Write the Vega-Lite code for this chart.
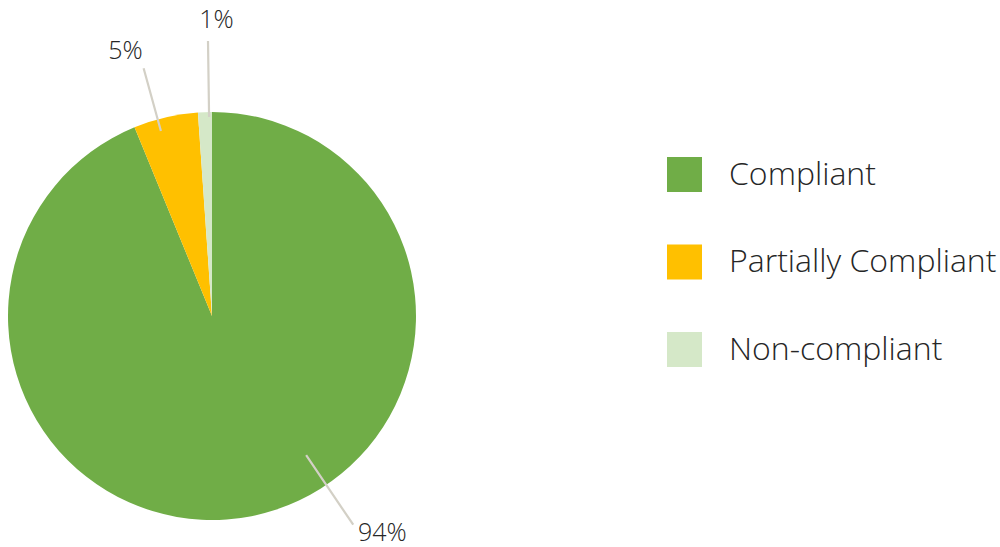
{
  "$schema": "https://vega.github.io/schema/vega-lite/v6.json",
  "width": 424,
  "height": 408,
  "autosize": {"type": "none"},
  "padding": {"left": 0, "top": 112, "right": 576, "bottom": 27},
  "background": "white",
  "config": {"view": {"stroke": null}, "font": "Open Sans"},
  "data": {
    "values": [
      {"category": "Compliant", "value": 93.8, "label": "94%"},
      {"category": "Partially Compliant", "value": 5.1, "label": "5%"},
      {"category": "Non-compliant", "value": 1.1, "label": "1%"}
    ]
  },
  "transform": [
    {"window": [{"op": "sum", "field": "value", "as": "cum"}], "frame": [null, 0]},
    {"calculate": "datum.cum - datum.value", "as": "start"},
    {"calculate": "datum.cum - datum.value / 2", "as": "mid"}
  ],
  "layer": [
    {
      "mark": {"type": "arc", "outerRadius": 204},
      "encoding": {
        "theta": {"field": "start", "type": "quantitative", "scale": {"domain": [0, 100]}},
        "theta2": {"field": "cum"},
        "color": {
          "field": "category",
          "type": "nominal",
          "scale": {
            "domain": ["Compliant", "Partially Compliant", "Non-compliant"],
            "range": ["#70AD47", "#FFC000", "#D5E8C8"]
          },
          "legend": {
            "title": null,
            "orient": "none",
            "legendX": 667,
            "legendY": 45,
            "symbolType": "square",
            "symbolSize": 1225,
            "symbolStrokeWidth": 0,
            "labelFontSize": 32,
            "labelFont": "Open Sans",
            "labelFontWeight": 300,
            "labelColor": "#262626",
            "labelOffset": 27,
            "rowPadding": 52.5,
            "labelLimit": 400
          }
        }
      }
    },
    {
      "transform": [{"filter": "datum.category == 'Partially Compliant'"}],
      "mark": {"type": "arc", "innerRadius": 192, "outerRadius": 257, "thetaOffset": -0.04, "theta2Offset": -0.04, "stroke": "#D3D0C6", "strokeWidth": 2.2, "fill": null},
      "encoding": {
        "theta": {"field": "mid", "type": "quantitative", "scale": {"domain": [0, 100]}},
        "theta2": {"field": "mid"}
      }
    },
    {
      "transform": [{"filter": "datum.category == 'Non-compliant'"}],
      "mark": {"type": "arc", "innerRadius": 199, "outerRadius": 275, "thetaOffset": 0.02, "theta2Offset": 0.02, "stroke": "#D3D0C6", "strokeWidth": 2.2, "fill": null},
      "encoding": {
        "theta": {"field": "mid", "type": "quantitative", "scale": {"domain": [0, 100]}},
        "theta2": {"field": "mid"}
      }
    },
    {
      "transform": [{"filter": "datum.category == 'Compliant'"}],
      "mark": {"type": "arc", "innerRadius": 168, "outerRadius": 252, "thetaOffset": -0.4, "theta2Offset": -0.4, "stroke": "#D3D0C6", "strokeWidth": 2.2, "fill": null},
      "encoding": {
        "theta": {"field": "mid", "type": "quantitative", "scale": {"domain": [0, 100]}},
        "theta2": {"field": "mid"}
      }
    },
    {
      "transform": [{"filter": "datum.category == 'Partially Compliant'"}],
      "mark": {"type": "text", "radius": 279, "thetaOffset": -0.086, "fontSize": 25, "font": "Open Sans", "fontWeight": 300, "color": "#262626", "align": "center", "baseline": "middle"},
      "encoding": {
        "theta": {"field": "mid", "type": "quantitative", "scale": {"domain": [0, 100]}},
        "text": {"field": "label"}
      }
    },
    {
      "transform": [{"filter": "datum.category == 'Non-compliant'"}],
      "mark": {"type": "text", "radius": 296, "thetaOffset": 0.05, "fontSize": 25, "font": "Open Sans", "fontWeight": 300, "color": "#262626", "align": "center", "baseline": "middle"},
      "encoding": {
        "theta": {"field": "mid", "type": "quantitative", "scale": {"domain": [0, 100]}},
        "text": {"field": "label"}
      }
    },
    {
      "transform": [{"filter": "datum.category == 'Compliant'"}],
      "mark": {"type": "text", "radius": 276, "thetaOffset": -0.47, "fontSize": 25, "font": "Open Sans", "fontWeight": 300, "color": "#262626", "align": "center", "baseline": "middle"},
      "encoding": {
        "theta": {"field": "mid", "type": "quantitative", "scale": {"domain": [0, 100]}},
        "text": {"field": "label"}
      }
    }
  ]
}
